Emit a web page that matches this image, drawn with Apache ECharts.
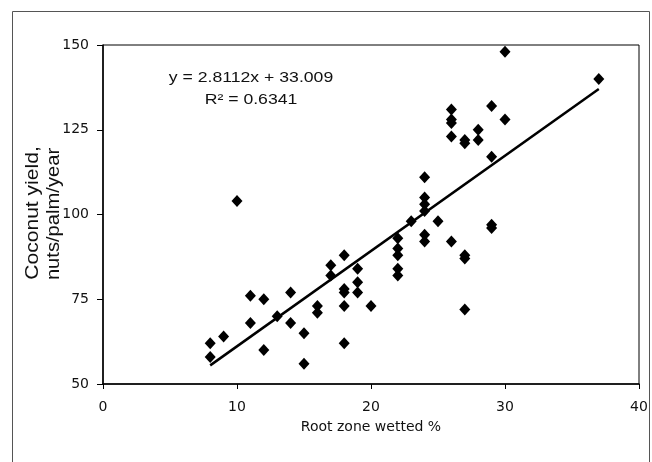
<!DOCTYPE html>
<html><head><meta charset="utf-8">
<script src="https://cdn.jsdelivr.net/npm/echarts@6/dist/echarts.min.js"></script>
<style>html,body{margin:0;padding:0;background:#fff}#c{width:652px;height:462px}</style>
</head><body><div id="c"></div>
<script>
const xValues = [8,8,9,10,11,11,12,12,13,14,14,15,15,16,16,17,17,18,18,18,18,18,19,19,19,20,22,22,22,22,22,23,24,24,24,24,24,24,25,26,26,26,26,26,27,27,27,27,27,28,28,29,29,29,29,30,30,37];
const yValues = [62,58,64,104,76,68,75,60,70,77,68,65,56,73,71,85,82,88,78,77,73,62,84,80,77,73,93,90,88,84,82,98,111,105,103,101,94,92,98,131,128,127,123,92,122,121,88,87,72,125,122,132,117,97,96,148,128,140];
const slope = 2.8112, intercept = 33.009;
const trendX = [8, 37];
const xTicks = [0,10,20,30,40];
const yTicks = [50,75,100,125,150];
const xAxisTitle = 'Root zone wetted %';
const yAxisTitle = ['Coconut yield,', 'nuts/palm/year'];
const equationText = 'y = 2.8112x + 33.009';
const r2Text = 'R² = 0.6341';

const pts = xValues.map((x,i)=>[x,yValues[i]]);
const trend = trendX.map(x=>[x, slope*x+intercept]);
const font = 'Liberation Sans, Arial, sans-serif';
const wide = 'DejaVu Sans, sans-serif';
const chart = echarts.init(document.getElementById('c'));
chart.setOption({
  animation:false,
  grid:{left:103,right:13,top:45,bottom:78,show:true,borderColor:'#000',borderWidth:1},
  xAxis:{type:'value',min:xTicks[0],max:xTicks[xTicks.length-1],interval:10,
    name:xAxisTitle,nameLocation:'middle',nameGap:36,
    nameTextStyle:{color:'#111',fontSize:14,fontFamily:wide},
    axisLine:{show:true,onZero:false,lineStyle:{color:'#000',width:1.5}},
    axisTick:{show:true,length:5,lineStyle:{color:'#000'}},
    axisLabel:{color:'#111',fontSize:14,fontFamily:wide,margin:16},
    splitLine:{show:false}},
  yAxis:{type:'value',min:yTicks[0],max:yTicks[yTicks.length-1],interval:25,
    axisLine:{show:true,onZero:false,lineStyle:{color:'#000',width:1.5}},
    axisTick:{show:true,length:6,lineStyle:{color:'#000'}},
    axisLabel:{color:'#111',fontSize:14,fontFamily:wide,margin:14},
    splitLine:{show:false}},
  graphic:[
    {type:'rect',shape:{x:12.5,y:11.5,width:637,height:470},style:{fill:'none',stroke:'#555',lineWidth:1},z:-1},
    {type:'text',x:251,y:78,scaleX:1.26,style:{text:equationText,fill:'#111',font:'14px '+font,textAlign:'center',textVerticalAlign:'middle'}},
    {type:'text',x:251,y:100,scaleX:1.26,style:{text:r2Text,fill:'#111',font:'14px '+font,textAlign:'center',textVerticalAlign:'middle'}},
    {type:'text',x:33,y:213,rotation:Math.PI/2,scaleX:1.17,style:{text:yAxisTitle[0],fill:'#111',font:'18px '+font,textAlign:'center',textVerticalAlign:'middle'}},
    {type:'text',x:54,y:214,rotation:Math.PI/2,scaleX:1.12,style:{text:yAxisTitle[1],fill:'#111',font:'18px '+font,textAlign:'center',textVerticalAlign:'middle'}}
  ],
  series:[
    {type:'scatter',data:pts,symbol:'diamond',symbolSize:[11,12],itemStyle:{color:'#000',opacity:1},z:3},
    {type:'line',data:trend,symbol:'none',lineStyle:{color:'#000',width:2.5},z:2}
  ]
});
</script></body></html>
